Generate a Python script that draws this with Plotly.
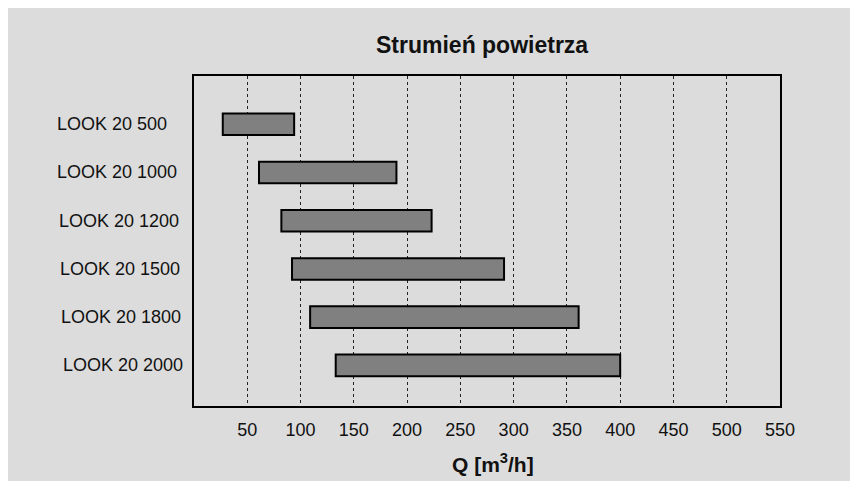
import plotly.graph_objects as go

categories = ["LOOK 20 500", "LOOK 20 1000", "LOOK 20 1200", "LOOK 20 1500", "LOOK 20 1800", "LOOK 20 2000"]
q_min = [27, 61, 82, 92, 109, 133]
q_max = [94, 190, 223, 291, 361, 400]
x_ticks = [50, 100, 150, 200, 250, 300, 350, 400, 450, 500, 550]
label_left_px = [47, 47, 49, 50, 51, 53]

W, H = 850, 473
L, R, T, B = 186, 78, 68, 75
pw, ph = W - L - R, H - T - B
BG = "#dcdcdc"
FONT = "Liberation Sans, Arial, sans-serif"

fig = go.Figure()
fig.add_trace(go.Bar(
    y=categories,
    x=[b - a for a, b in zip(q_min, q_max)],
    base=q_min,
    orientation="h",
    width=0.45,
    marker=dict(color="#808080", line=dict(color="black", width=2)),
    hoverinfo="skip",
))

annotations = []
for cat, px in zip(categories, label_left_px):
    annotations.append(dict(
        text=cat, xref="paper", yref="y", x=(px - L) / pw, y=cat,
        xanchor="left", yanchor="middle", showarrow=False,
        font=dict(family=FONT, size=18, color="#111"),
    ))
annotations.append(dict(
    text="<b>Q [m<sup>3</sup>/h]</b>", xref="paper", yref="paper",
    x=(485 - L) / pw, y=(H - B - 455) / ph, xanchor="center", yanchor="middle",
    showarrow=False, font=dict(family=FONT, size=21, color="#111"),
))
annotations.append(dict(
    text="<b>Strumień powietrza</b>", xref="paper", yref="paper",
    x=(474 - L) / pw, y=(H - B - 37) / ph, xanchor="center", yanchor="middle",
    showarrow=False, font=dict(family=FONT, size=23, color="#111"),
))

fig.update_layout(
    width=W, height=H,
    margin=dict(l=L, r=R, t=T, b=B, pad=0),
    paper_bgcolor=BG,
    plot_bgcolor=BG,
    showlegend=False,
    annotations=annotations,
    xaxis=dict(
        range=[0, 550], tickvals=x_ticks,
        showgrid=True, gridcolor="#222", gridwidth=1, griddash="dot",
        showline=True, linecolor="black", linewidth=2, mirror=True,
        zeroline=False, ticks="", ticklabelstandoff=6,
        tickfont=dict(family=FONT, size=18, color="#111"),
    ),
    yaxis=dict(
        categoryorder="array", categoryarray=categories,
        range=[5.84, -1.0],
        showticklabels=False, showgrid=False, ticks="",
        showline=True, linecolor="black", linewidth=2, mirror=True,
        zeroline=False,
    ),
)

fig.write_html("out.html")
